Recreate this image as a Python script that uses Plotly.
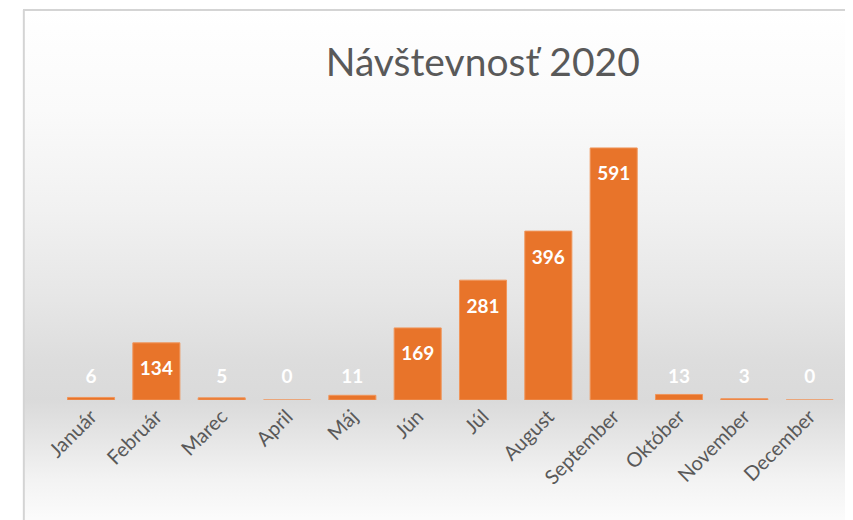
import plotly.graph_objects as go

months = ["Január", "Február", "Marec", "April", "Máj", "Jún", "Júl",
          "August", "September", "Október", "November", "December"]
visits = [6, 134, 5, 0, 11, 169, 281, 396, 591, 13, 3, 0]
title_text = "Návštevnosť 2020"

W, H = 853, 520
OFF = 8  # page body margin offset of the browser
FONT = "Lato, 'Open Sans', sans-serif"
TXT = "#595959"


def px_x(p):
    return (p - OFF) / W


def px_y(p):
    return 1 - (p - OFF) / H


# background gradient stops: (screen y pixel, colour)
bg_stops = [(8, "#ffffff"), (110, "#fafafa"), (210, "#f1f1f1"), (300, "#e6e6e6"),
            (360, "#dddddd"), (400, "#dadada"), (440, "#e6e6e6"), (480, "#f3f3f3"),
            (528, "#fdfdfd")]
colorscale = sorted([[min(max(px_y(p), 0), 1), c] for p, c in bg_stops])

fig = go.Figure()

fig.add_trace(go.Scatter(
    x=[0, 1, 1, 0, 0], y=[0, 0, 1, 1, 0], mode="lines", line=dict(width=0),
    fill="toself", hoverinfo="skip", showlegend=False,
    fillgradient=dict(type="vertical", colorscale=colorscale, start=0, stop=1),
    xaxis="x", yaxis="y"))

fig.add_trace(go.Bar(
    x=months, y=visits,
    marker=dict(color="#E8742A", line=dict(color="#F0955A", width=1)),
    showlegend=False, hoverinfo="x+y", xaxis="x2", yaxis="y2"))

label_y = [max(v - 65, 52) for v in visits]
fig.add_trace(go.Scatter(
    x=months, y=label_y, mode="text", text=[str(v) for v in visits],
    textfont=dict(family=FONT, size=19, color="white", weight="bold"),
    textposition="middle center", showlegend=False, hoverinfo="skip",
    xaxis="x2", yaxis="y2"))

fig.update_layout(
    width=W, height=H, margin=dict(l=0, r=0, t=0, b=0),
    paper_bgcolor="white", plot_bgcolor="rgba(0,0,0,0)",
    title=dict(text=title_text, x=px_x(476), y=px_y(62), xanchor="center", yanchor="middle",
               xref="paper", yref="paper",
               font=dict(family=FONT, size=39, color=TXT)),
    xaxis=dict(domain=[0, 1], range=[0, 1], visible=False, fixedrange=True),
    yaxis=dict(domain=[0, 1], range=[0, 1], visible=False, fixedrange=True),
    xaxis2=dict(domain=[px_x(44), px_x(842)], anchor="y2", type="category",
                range=[-0.5, 11.5], showgrid=False, zeroline=False, showline=False,
                tickangle=-45, ticks="", tickfont=dict(family=FONT, size=20, color=TXT)),
    yaxis2=dict(domain=[px_y(400), px_y(110)], anchor="x2", range=[0, 680],
                visible=False, showgrid=False, zeroline=False),
    bargap=0.28,
    shapes=[
        dict(type="line", xref="paper", yref="paper", x0=px_x(8), x1=1.01, y0=px_y(10), y1=px_y(10),
             line=dict(color="#d4d4d4", width=2)),
        dict(type="line", xref="paper", yref="paper", x0=px_x(8) + 0.001, x1=px_x(8) + 0.001,
             y0=px_y(10), y1=-0.01, line=dict(color="#d4d4d4", width=2)),
    ],
)

fig.write_html("out.html")
